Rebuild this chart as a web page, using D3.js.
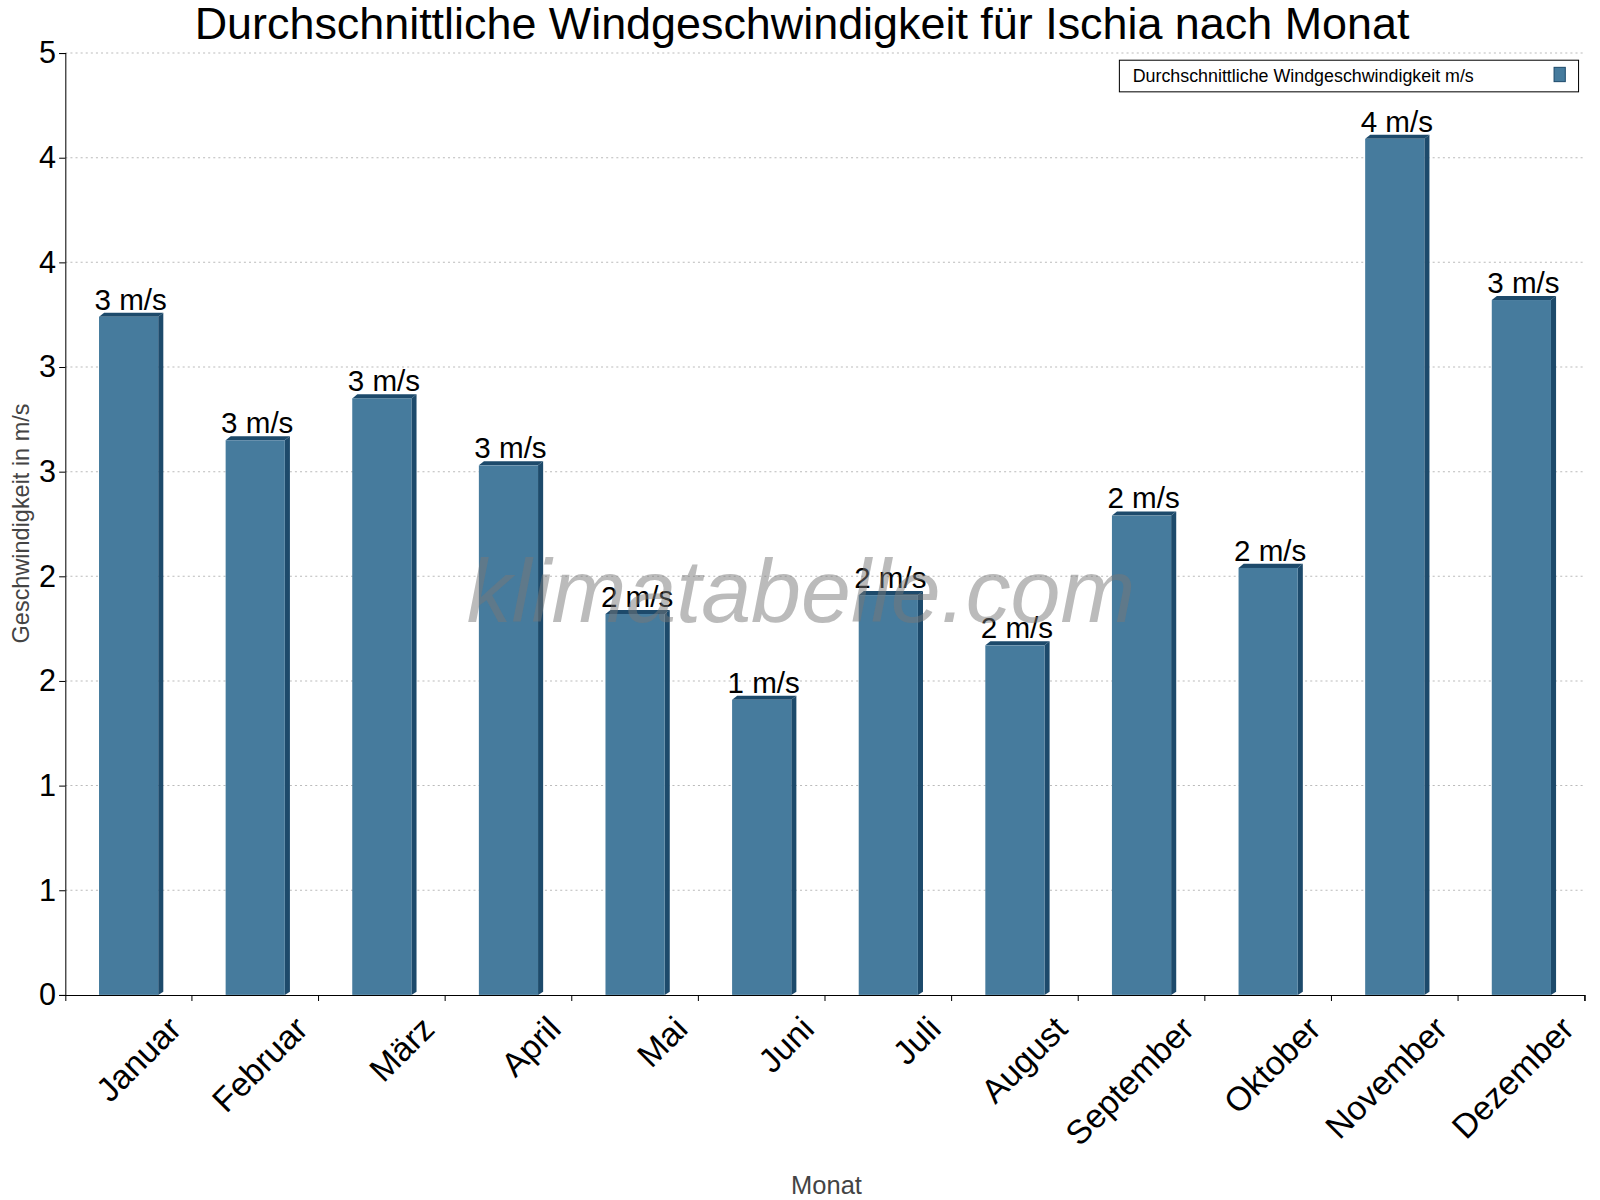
<!DOCTYPE html>
<html><head><meta charset="utf-8">
<script src="https://cdn.jsdelivr.net/npm/d3@7"></script>
<style>body{margin:0;background:#fff}text{font-family:Arial,"Liberation Sans",sans-serif}</style>
</head><body><svg id="c" width="1600" height="1200"></svg>
<script>
const months=["Januar","Februar","März","April","Mai","Juni","Juli","August","September","Oktober","November","Dezember"];
const speeds=[3.24,2.65,2.85,2.53,1.82,1.41,1.91,1.67,2.29,2.04,4.09,3.32];
const yTicks=[0,0.5,1,1.5,2,2.5,3,3.5,4,4.5];
const svg=d3.select("#c").append("g").attr("transform","scale(1.0204)");
const L=64,R=1553,T=52,B=975;
const x=d3.scaleBand().domain(months).range([L,R]);
const y=d3.scaleLinear().domain([0,4.5]).range([B,T]);
const fmt=v=>String(Math.round(v+1e-9));
svg.append("g").selectAll("line").data(yTicks.slice(1)).join("line")
 .attr("x1",L).attr("x2",R).attr("y1",d=>y(d)).attr("y2",d=>y(d))
 .attr("stroke","#bbb").attr("stroke-dasharray","2,3");
const ya=svg.append("g").attr("transform",`translate(${L},0)`).call(d3.axisLeft(y).tickValues(yTicks).tickFormat(fmt).tickSizeOuter(0).tickSize(6));
ya.selectAll("text").attr("font-size",30).attr("fill","#000");
ya.select(".domain").attr("stroke","#000");
const xa=svg.append("g").attr("transform",`translate(0,${B})`).call(d3.axisBottom(x).tickSizeOuter(0).tickSize(6));
xa.selectAll(".tick line").attr("transform",`translate(${x.bandwidth()/2},0)`);
xa.selectAll("text").attr("font-size",33).attr("fill","#000").attr("text-anchor","end")
 .attr("transform","translate(26,8) rotate(-45)").attr("dy","0.9em");
const bw=58,dep=5;
const g=svg.append("g");
months.forEach((m,i)=>{
 const cx=x(m)+x.bandwidth()/2, x0=cx-bw/2, yt=y(speeds[i]);
 g.append("polygon").attr("points",`${x0+bw},${yt} ${x0+bw+dep},${yt-4} ${x0+bw+dep},${B-3} ${x0+bw},${B}`).attr("fill","#1d4a6b");
 g.append("polygon").attr("points",`${x0},${yt} ${x0+dep},${yt-4} ${x0+bw+dep},${yt-4} ${x0+bw},${yt}`).attr("fill","#1d4a6b");
 g.append("rect").attr("x",x0).attr("y",yt).attr("width",bw).attr("height",B-yt).attr("fill","#467b9d");
 g.append("text").attr("x",cx+2).attr("y",yt-7).attr("text-anchor","middle").attr("font-size",29).text(fmt(speeds[i])+" m/s");
});
svg.append("text").attr("x",785).attr("y",610).attr("text-anchor","middle").attr("font-size",88).attr("font-style","italic").attr("fill","rgba(120,120,120,0.5)").text("klimatabelle.com");
svg.append("text").attr("x",786).attr("y",38).attr("text-anchor","middle").attr("font-size",44).text("Durchschnittliche Windgeschwindigkeit für Ischia nach Monat");
svg.append("text").attr("x",810).attr("y",1170).attr("text-anchor","middle").attr("font-size",25).attr("fill","#444").text("Monat");
svg.append("text").attr("transform","translate(28,513) rotate(-90)").attr("text-anchor","middle").attr("font-size",23).attr("fill","#444").text("Geschwindigkeit in m/s");
svg.append("rect").attr("x",1097).attr("y",59).attr("width",450).attr("height",31).attr("fill","#fff").attr("stroke","#000");
svg.append("text").attr("x",1110).attr("y",80).attr("font-size",17.5).text("Durchschnittliche Windgeschwindigkeit m/s");
svg.append("rect").attr("x",1523).attr("y",66).attr("width",11).attr("height",14).attr("fill","#467b9d").attr("stroke","#1d4a6b");
</script></body></html>
